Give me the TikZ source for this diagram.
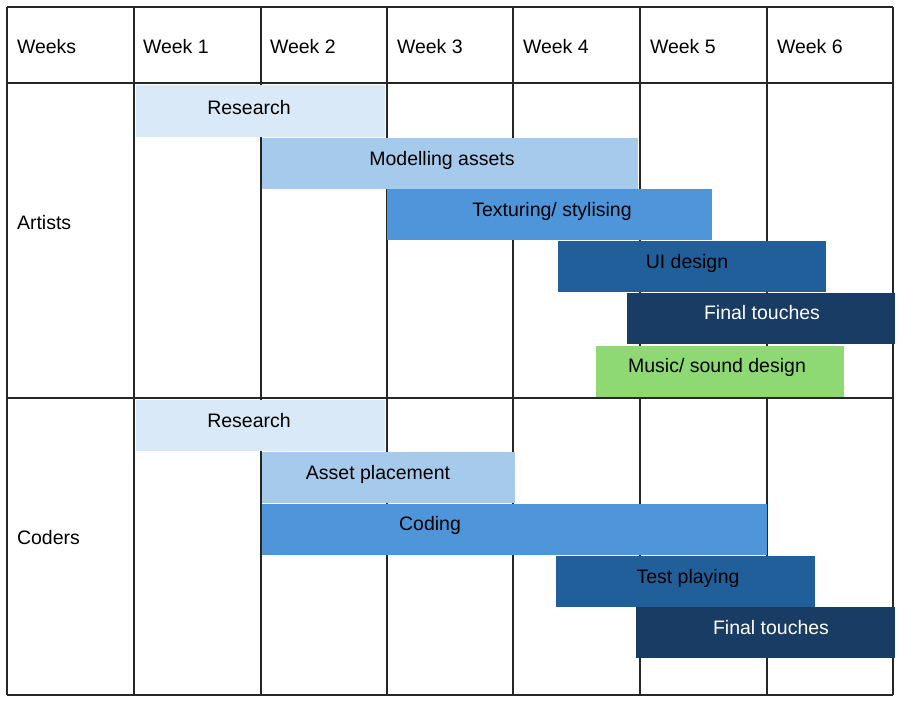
\documentclass[tikz,border=0pt]{standalone}
\usepackage{fontspec}
\setmainfont{Liberation Sans}
\usepackage{tikz}
\usetikzlibrary{positioning,calc}

\definecolor{blueA}{HTML}{DAE9F7}
\definecolor{blueB}{HTML}{A6CAEC}
\definecolor{blueC}{HTML}{4E95D9}
\definecolor{blueD}{HTML}{215F9A}
\definecolor{blueE}{HTML}{183C63}
\definecolor{greenA}{HTML}{8ED973}

\begin{document}
\begin{tikzpicture}[x=1pt, y=-1pt,
            every node/.style={font=\fontsize{19.5}{23}\selectfont, inner sep=0pt, outer sep=0pt},
            grid/.style={draw=black!85, line width=1.2pt},
            bar/.style={anchor=north west, minimum height=51pt},
            head/.style={anchor=base west},
            barText/.style={anchor=base}]
        \useasboundingbox (0,0) rectangle (903,705);
        \fill[white] (0,0) rectangle (903,705);

        % table grid
        \foreach \x in {7,134,261,387,513,640,767,893}
            \draw[grid] (\x,7) -- (\x,695);
        \foreach \y in {7,83,398,695}
            \draw[grid] (7,\y) -- (893,\y);

        % header row and row names
        \node[head] (weeks) at (17,53) {Weeks};
        \foreach \n/\x in {1/143,2/270,3/397,4/523,5/650,6/777}
            \node[head] (week\n) at (\x,53) {Week \n};
        \node[head] (artists) at (17,229) {Artists};
        \node[head] (coders) at (17,544) {Coders};

        % artists
        \node[bar, fill=blueA, minimum width=249pt, minimum height=52pt] (artResearch) at (136,85) {};
        \node[bar, fill=blueB, minimum width=376pt] (artModel) at (262,138) {};
        \node[bar, fill=blueC, minimum width=325pt] (artTexture) at (387,189) {};
        \node[bar, fill=blueD, minimum width=268pt] (artUI) at (558,241) {};
        \node[bar, fill=blueE, minimum width=268pt] (artFinal) at (627,293) {};
        \node[bar, fill=greenA, minimum width=248pt] (artMusic) at (596,346) {};

        \node[barText] (artResearchT) at (249,114) {Research};
        \node[barText] (artModelT) at (442,165) {Modelling assets};
        \node[barText] (artTextureT) at (552,216) {Texturing/ stylising};
        \node[barText] (artUIT) at (687,268) {UI design};
        \node[barText, text=white] (artFinalT) at (762,319) {Final touches};
        \node[barText] (artMusicT) at (717,372) {Music/ sound design};

        % coders
        \node[bar, fill=blueA, minimum width=249pt] (codResearch) at (136,400) {};
        \node[bar, fill=blueB, minimum width=253pt] (codAsset) at (262,452) {};
        \node[bar, fill=blueC, minimum width=505pt] (codCoding) at (262,504) {};
        \node[bar, fill=blueD, minimum width=259pt] (codTest) at (556,556) {};
        \node[bar, fill=blueE, minimum width=259pt] (codFinal) at (636,607) {};

        \node[barText] (codResearchT) at (249,427) {Research};
        \node[barText] (codAssetT) at (378,479) {Asset placement};
        \node[barText] (codCodingT) at (430,530) {Coding};
        \node[barText] (codTestT) at (688,583) {Test playing};
        \node[barText, text=white] (codFinalT) at (771,634) {Final touches};
\end{tikzpicture}
\end{document}
